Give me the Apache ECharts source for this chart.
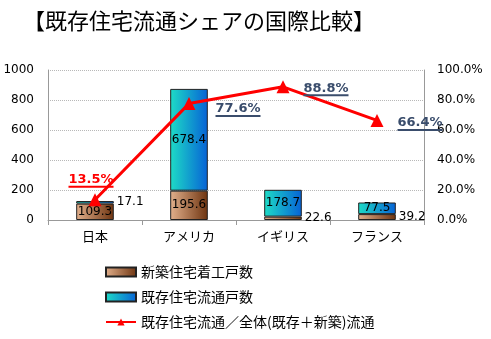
<!DOCTYPE html>
<html>
<head>
<meta charset="utf-8">
<script src="https://cdn.jsdelivr.net/npm/echarts@6/dist/echarts.min.js"></script>
<style>
  html, body { margin: 0; padding: 0; background: #fff; }
  #main { width: 491px; height: 339px; }
</style>
</head>
<body>
<div id="main"></div>
<script>
var categories = ['日本', 'アメリカ', 'イギリス', 'フランス']
var newBuilt = [109.3, 195.6, 22.6, 39.2]
var existing = [17.1, 678.4, 178.7, 77.5]
var share = [13.5, 77.6, 88.8, 66.4]
var leftTicks = [0, 1000, 200]
var rightTicks = [0, 100, 20]

var myChart = echarts.init(document.getElementById('main'))

var font = '"DejaVu Sans", Verdana, sans-serif'
var cjk = '"Noto Sans CJK JP", sans-serif'

// small segments get their label outside to the right
function barData(vals) {
    return vals.map(function (v) {
        var small = v < 50
        return {
            value: v,
            label: {
                show: true,
                position: small ? 'right' : 'inside',
                distance: small ? 3 : 5,
                color: '#000',
                fontFamily: font,
                fontSize: 12
            }
        }
    })
}

var lblPos = [
    { position: 'top', distance: 5, offset: [-4, 0], color: '#ff0000' },
    { position: 'right', distance: 20, offset: [0, 7], color: '#3a4d6c' },
    { position: 'right', distance: 14, offset: [0, 3], color: '#3a4d6c' },
    { position: 'right', distance: 14, offset: [0, 4], color: '#3a4d6c' }
]

var shareData = share.map(function (v, i) {
    var c = lblPos[i].color
    return {
        value: v,
        label: {
            show: true,
            position: lblPos[i].position,
            distance: lblPos[i].distance,
            offset: lblPos[i].offset,
            formatter: function (p) { return '{t|' + p.value.toFixed(1) + '%}\n{u| }' },
            rich: {
                t: { fontFamily: font, fontWeight: 'bold', fontSize: 13, color: c, lineHeight: 11 },
                u: { height: 2, lineHeight: 3, fontSize: 1, width: 45, backgroundColor: c }
            }
        }
    }
})

myChart.setOption({
    animation: false,
    title: {
        text: '【既存住宅流通シェアの国際比較】',
        left: 18,
        top: 5,
        textStyle: { fontFamily: cjk, fontSize: 22, fontWeight: 'normal', color: '#000' }
    },
    legend: {
        orient: 'vertical',
        left: 100,
        top: 260,
        itemWidth: 30,
        itemHeight: 9,
        itemGap: 11,
        textStyle: { fontFamily: cjk, fontSize: 14, color: '#000' },
        data: [
            { name: '新築住宅着工戸数', icon: 'rect' },
            { name: '既存住宅流通戸数', icon: 'rect' },
            { name: '既存住宅流通／全体(既存＋新築)流通' }
        ]
    },
    grid: { left: 48, right: 67, top: 70, bottom: 119 },
    xAxis: {
        type: 'category',
        data: categories,
        axisLine: { lineStyle: { color: '#999' } },
        axisTick: { show: true, length: 5, lineStyle: { color: '#999' } },
        axisLabel: { color: '#000', fontFamily: cjk, fontSize: 13, margin: 10 }
    },
    yAxis: [{
        type: 'value',
        min: leftTicks[0],
        max: leftTicks[1],
        interval: leftTicks[2],
        axisLine: { show: true, lineStyle: { color: '#999' } },
        axisTick: { show: false },
        axisLabel: {
            color: '#000', fontFamily: font, fontSize: 12, margin: 14,
            formatter: function (v) { return String(v) }
        },
        splitLine: { lineStyle: { color: '#b8b8b8', type: 'dotted' } }
    }, {
        type: 'value',
        min: rightTicks[0],
        max: rightTicks[1],
        interval: rightTicks[2],
        axisLine: { show: true, lineStyle: { color: '#999' } },
        axisTick: { show: false },
        axisLabel: {
            color: '#000', fontFamily: font, fontSize: 12, margin: 13,
            formatter: function (v) { return v.toFixed(1) + '%' }
        },
        splitLine: { show: false }
    }],
    series: [{
        name: '新築住宅着工戸数',
        type: 'bar',
        stack: 'total',
        barWidth: '40%',
        itemStyle: {
            borderColor: '#222',
            borderWidth: 1,
            color: new echarts.graphic.LinearGradient(0, 0, 1, 0, [
                { offset: 0, color: '#e2b08c' },
                { offset: 1, color: '#6e3410' }
            ])
        },
        data: barData(newBuilt)
    }, {
        name: '既存住宅流通戸数',
        type: 'bar',
        stack: 'total',
        barWidth: '40%',
        itemStyle: {
            borderColor: '#222',
            borderWidth: 1,
            color: new echarts.graphic.LinearGradient(0, 0, 1, 0, [
                { offset: 0, color: '#1edcc6' },
                { offset: 1, color: '#0662d6' }
            ])
        },
        data: barData(existing)
    }, {
        name: '既存住宅流通／全体(既存＋新築)流通',
        type: 'line',
        yAxisIndex: 1,
        z: 5,
        symbol: 'triangle',
        symbolSize: 13,
        color: '#ff0000',
        lineStyle: { color: '#ff0000', width: 3 },
        itemStyle: { color: '#ff0000' },
        data: shareData
    }]
})
</script>
</body>
</html>
